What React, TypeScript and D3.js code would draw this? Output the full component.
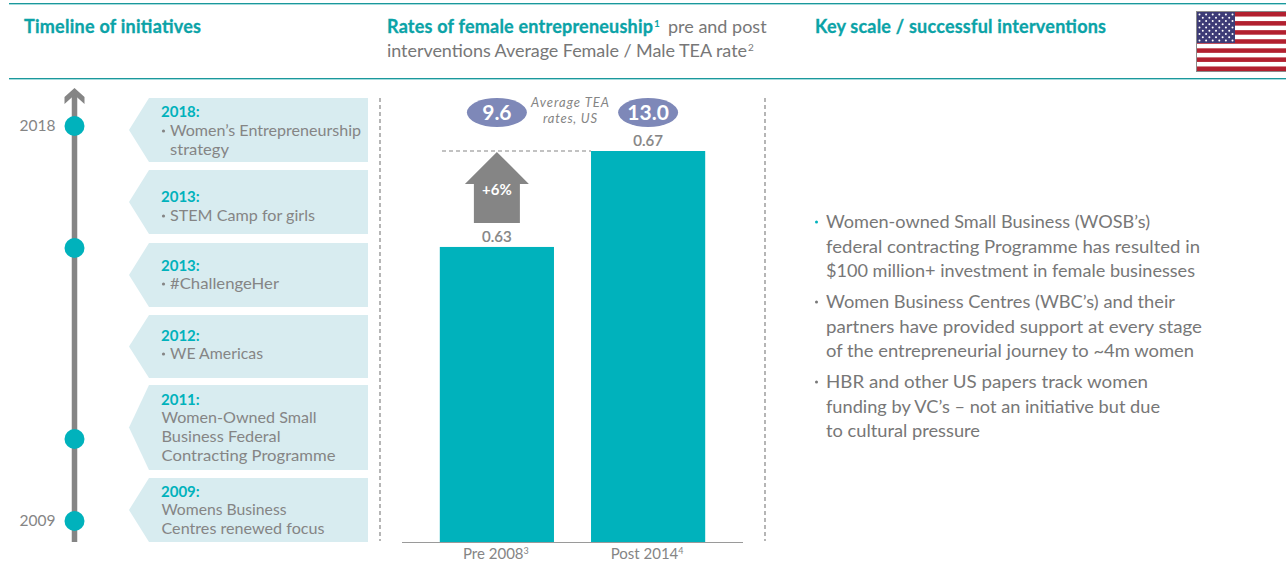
import * as d3 from "d3";

const FONT = "Lato, 'Open Sans', sans-serif";
const TEAL = "#00b2bc";
const HEAD = "#0ba3a7";
const GREY = "#858585";
const BODY = "#777777";
const PANEL = "#d8ecf0";

// bars
const periods = ["Pre 2008", "Post 2014"];
const periodNotes = ["3", "4"];
const ratios = [0.63, 0.67];
const teaRates = ["9.6", "13.0"];
const uplift = "+6%";

// timeline
const axisYears = [2009, 2011, 2013, 2018];
const markerYears = [2018, 2013, 2011, 2009];
const labelledYears = [2018, 2009];

const panelBoxes = [
  [98, 162],
  [170, 234],
  [243, 307],
  [315, 378],
  [385, 470],
  [478, 542],
];
const panelYears = ["2018:", "2013:", "2013:", "2012:", "2011:", "2009:"];
const panelHasBullet = [true, true, true, true, false, false];
const panelLines = [
  ["Women’s Entrepreneurship", "strategy"],
  ["STEM Camp for girls"],
  ["#ChallengeHer"],
  ["WE Americas"],
  ["Women-Owned Small", "Business Federal", "Contracting Programme"],
  ["Womens Business", "Centres renewed focus"],
];
// measured off the reference, the original font is not installed
const panelLineWidths = [[191, 59], [145], [109], [93], [155, 119, 174], [125, 163]];
const panelYearDy = [19, 32, 28, 26, 20, 19];
const panelLineDy = [38, 51, 46, 44, 38, 37];

const bullets = [
  ["Women-owned Small Business (WOSB’s)", "federal contracting Programme has resulted in", "$100 million+ investment in female businesses"],
  ["Women Business Centres (WBC’s) and their", "partners have provided support at every stage", "of the entrepreneurial journey to ~4m women"],
  ["HBR and other US papers track women", "funding by VC’s – not an initiative but due", "to cultural pressure"],
];
const bulletWidths = [[324, 374, 369], [349, 376, 368], [322, 334, 154]];
const bulletTops = [228, 308, 388];

const x = d3.scaleBand().domain(periods).range([402, 743]).paddingInner(0.245).paddingOuter(0.25);
// truncated axis, as in the original
const y = d3.scaleLinear().domain([0.507, 0.67]).range([542, 151]);
// the timeline is not evenly spaced in the original
const yearY = d3.scaleLinear().domain(axisYears).range([521, 439, 248, 126]);

const panelPath = (top: number, bottom: number) =>
  d3.line()([
    [368, top],
    [149, top],
    [129, (top + bottom) / 2],
    [149, bottom],
    [368, bottom],
  ]) + "Z";

const stripes = d3.range(13);
const stripeY = d3.scaleBand<number>().domain(stripes).range([12, 71]);
const starRows = d3.range(9);
const starY = d3.scalePoint<number>().domain(starRows).range([14.5, 40.5]);
const starX = d3.scalePoint<number>().domain(d3.range(11)).range([1199.5, 1232.5]);

const Flag = () => (
  <g>
    <rect x={1196} y={11} width={90} height={61} fill="#8b8b8b" />
    <rect x={1197} y={12} width={89} height={59} fill="#fff" />
    {stripes.filter((s) => s % 2 === 0).map((s) => (
      <rect key={s} x={1197} y={stripeY(s)} width={89} height={stripeY.bandwidth()} fill="#b2202f" />
    ))}
    <rect x={1197} y={12} width={38} height={31} fill="#3d3b76" />
    {starRows.map((r) =>
      d3.range(11).filter((c) => c % 2 === r % 2).map((c) => (
        <circle key={r + "-" + c} cx={starX(c)} cy={starY(r)} r={1} fill="#fff" />
      ))
    )}
  </g>
);

export default function App() {
  const arrowX = x(periods[0])! + x.bandwidth() / 2;
  const arrowTip = y(ratios[1]) + 1;
  const arrowBase = y(ratios[0]) - 24;
  const arrow = d3.line()([
    [arrowX, arrowTip],
    [arrowX + 32, arrowTip + 32],
    [arrowX + 23, arrowTip + 32],
    [arrowX + 23, arrowBase],
    [arrowX - 23, arrowBase],
    [arrowX - 23, arrowTip + 32],
    [arrowX - 32, arrowTip + 32],
  ]) + "Z";

  return (
    <svg width={1286} height={562} style={{ position: "absolute", left: 0, top: 0, display: "block" }} fontFamily={FONT}>
      {/* header rules */}
      {[3.5, 78.5].map((ry) => (
        <g key={ry}>
          <line x1={9} x2={1286} y1={ry} y2={ry} stroke="#1b989c" strokeWidth={1} />
          <line x1={9} x2={1286} y1={ry + 1} y2={ry + 1} stroke="#a5dcdd" strokeWidth={1} />
        </g>
      ))}

      <text x={24} y={33} fontSize={18} fontWeight={700} fill={HEAD} stroke={HEAD} strokeWidth={0.3} textLength={177}>Timeline of initiatives</text>
      <text x={387} y={33} fontSize={18} fontWeight={700} fill={HEAD} stroke={HEAD} strokeWidth={0.3} textLength={266}>Rates of female entrepreneuship</text>
      <text x={654} y={27} fontSize={10} fontWeight={700} fill={HEAD}>1</text>
      <text x={668} y={33} fontSize={18} fill={BODY}>pre and post</text>
      <text x={387} y={57} fontSize={18} fill={BODY} textLength={360}>interventions Average Female / Male TEA rate</text>
      <text x={748} y={51} fontSize={10} fill={BODY}>2</text>
      <text x={815} y={33} fontSize={18} fontWeight={700} fill={HEAD} stroke={HEAD} strokeWidth={0.3} textLength={291}>Key scale / successful interventions</text>
      <Flag />

      {/* timeline */}
      <line x1={74.5} x2={74.5} y1={94} y2={542} stroke={GREY} strokeWidth={5.5} />
      <path d="M74.5,88 L84.5,97 L84.5,104 L74.5,95 L64.5,104 L64.5,97 Z" fill={GREY} />
      {markerYears.map((yr, i) => (
        <circle key={i} cx={74.5} cy={yearY(yr)} r={10} fill={TEAL} />
      ))}
      {labelledYears.map((yr) => (
        <text key={yr} x={55.5} y={yearY(yr) + 4.5} textAnchor="end" fontSize={15.5} fill={GREY}>{yr}</text>
      ))}

      {/* initiative panels */}
      {panelBoxes.map(([top, bottom], i) => (
        <g key={i}>
          <path d={panelPath(top, bottom)} fill={PANEL} />
          <text x={161} y={top + panelYearDy[i]} fontSize={15} fontWeight={700} fill={TEAL}>{panelYears[i]}</text>
          {panelHasBullet[i] && (
            <circle cx={163.5} cy={top + panelLineDy[i] - 5} r={1.6} fill={GREY} />
          )}
          {panelLines[i].map((line, j) => (
            <text
              key={j}
              x={panelHasBullet[i] ? 170 : 161.5}
              y={top + panelLineDy[i] + j * 19}
              fontSize={16}
              fill={GREY}
              textLength={panelLineWidths[i][j]}
              lengthAdjust="spacingAndGlyphs"
            >
              {line}
            </text>
          ))}
        </g>
      ))}

      {/* dashed separators */}
      {[380, 765].map((dx) => (
        <line key={dx} x1={dx} x2={dx} y1={98} y2={541} stroke={GREY} strokeWidth={1.2} strokeDasharray="4 3" />
      ))}

      {/* bars */}
      {periods.map((p, i) => (
        <rect key={p} x={x(p)} y={y(ratios[i])} width={x.bandwidth()} height={y.range()[0] - y(ratios[i])} fill={TEAL} />
      ))}
      {periods.map((p, i) => (
        <text key={p} x={x(p)! + x.bandwidth() / 2} y={y(ratios[i]) - 5} textAnchor="middle" fontSize={15} fontWeight={500} fill={GREY} stroke={GREY} strokeWidth={0.2}>
          {d3.format(".2f")(ratios[i])}
        </text>
      ))}
      <line x1={402} x2={743} y1={542.5} y2={542.5} stroke="#9a9a9a" strokeWidth={1} />
      {periods.map((p, i) => (
        <text key={p} x={x(p)! + x.bandwidth() / 2 - 1} y={559} textAnchor="middle" fontSize={15} fill={GREY}>
          {p}
          <tspan fontSize={9} dy={-5}>{periodNotes[i]}</tspan>
        </text>
      ))}

      {/* uplift */}
      <line x1={442} x2={x(periods[1])} y1={y(ratios[1])} y2={y(ratios[1])} stroke={GREY} strokeWidth={1} strokeDasharray="4 3" />
      <path d={arrow} fill={GREY} />
      <text x={arrowX} y={195} textAnchor="middle" fontSize={15} fontWeight={700} fill="#fff">{uplift}</text>

      {/* TEA rates */}
      {periods.map((p, i) => {
        const cx = x(p)! + x.bandwidth() / 2;
        return (
          <g key={p}>
            <ellipse cx={cx} cy={112.5} rx={30} ry={14.5} fill="#7e88b8" />
            <text x={cx} y={119.5} textAnchor="middle" fontSize={21} fontWeight={700} fill="#fff">{teaRates[i]}</text>
          </g>
        );
      })}
      <text x={570} y={107} textAnchor="middle" fontSize={13} fontStyle="italic" fill={GREY} textLength={78}>Average TEA</text>
      <text x={570} y={123} textAnchor="middle" fontSize={13} fontStyle="italic" fill={GREY} textLength={54}>rates, US</text>

      {/* right hand text */}
      {bullets.map((lines, i) => (
        <g key={i}>
          <circle cx={816.5} cy={bulletTops[i] - 6} r={1.5} fill={i === 0 ? TEAL : BODY} />
          {lines.map((line, j) => (
            <text
              key={j}
              x={826}
              y={bulletTops[i] + j * 24.5}
              fontSize={18}
              fill={BODY}
              textLength={bulletWidths[i][j]}
              lengthAdjust="spacingAndGlyphs"
            >
              {line}
            </text>
          ))}
        </g>
      ))}
    </svg>
  );
}
